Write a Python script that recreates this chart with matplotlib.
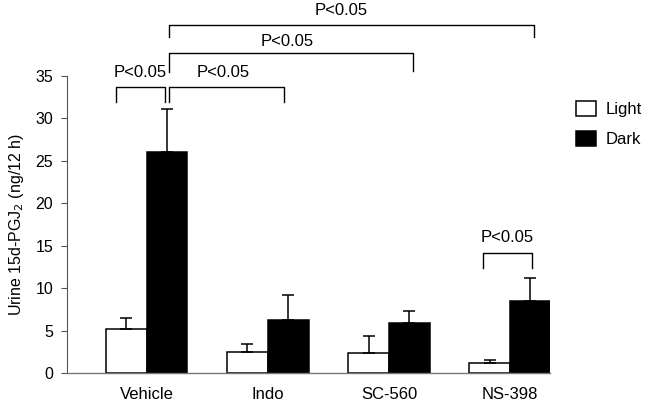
import matplotlib
matplotlib.use("Agg")
import matplotlib.pyplot as plt
import numpy as np

plt.rcParams['font.family'] = ['Liberation Sans', 'DejaVu Sans']

categories = ["Vehicle", "Indo", "SC-560", "NS-398"]
light = [5.2, 2.55, 2.35, 1.2]
light_err = [1.35, 0.85, 2.0, 0.35]
dark = [26.0, 6.25, 5.95, 8.5]
dark_err = [5.1, 2.9, 1.4, 2.7]
series_labels = ["Light", "Dark"]
yticks = [0, 5, 10, 15, 20, 25, 30, 35]
ylabel = "Urine 15d-PGJ$_2$ (ng/12 h)"

# significance brackets: (x_left, x_right, y_top, y_left_bottom, y_right_bottom, text_x, text_y, label)
brackets = [
    (-0.254, 0.149, 33.65, 31.95, 31.95, -0.05, 35.4, "P<0.05"),
    (0.186, 1.136, 33.65, 31.95, 31.95, 0.63, 35.4, "P<0.05"),
    (0.186, 2.197, 37.7, 35.4, 35.6, 1.16, 39.0, "P<0.05"),
    (0.186, 3.198, 41.0, 39.5, 39.5, 1.61, 42.7, "P<0.05"),
    (2.78, 3.179, 14.1, 12.35, 12.35, 2.98, 16.0, "P<0.05"),
]

fig = plt.figure(figsize=(6.47, 4.05), dpi=100)
ax = fig.add_axes([67/647, 1 - 373.3/405, (550-67)/647, (373.3-75.7)/405])

x = np.arange(len(categories))
w = 0.336
zeros = [0]*len(categories)
ax.bar(x - w/2, light, w, color='white', edgecolor='black', linewidth=1.1,
       label=series_labels[0], zorder=2)
ax.bar(x + w/2, dark, w, color='black', edgecolor='black', linewidth=1.1,
       label=series_labels[1], zorder=2)
ax.errorbar(x - w/2, light, yerr=[zeros, light_err], fmt='none', ecolor='black',
            elinewidth=1.1, capsize=4.3, capthick=1.1, zorder=3)
ax.errorbar(x + w/2, dark, yerr=[zeros, dark_err], fmt='none', ecolor='black',
            elinewidth=1.1, capsize=4.3, capthick=1.1, zorder=3)

ax.set_xlim(-0.658, 3.33)
ax.set_ylim(0, 35)
ax.set_yticks(yticks)
ax.set_xticks(x)
ax.set_xticklabels(categories)
ax.tick_params(axis='x', length=0, pad=10, labelsize=12)
ax.tick_params(axis='y', length=4, width=0.8, color='#555555', pad=6, labelsize=11.5)
for s in ['top', 'right']:
    ax.spines[s].set_visible(False)
ax.spines['left'].set_color('#555555')
ax.spines['bottom'].set_color('#777777')
ax.spines['left'].set_linewidth(0.8)
ax.spines['bottom'].set_linewidth(1.0)
ax.set_ylabel(ylabel, fontsize=11.5, labelpad=7)

for xl, xr, yt, ylb, yrb, tx, ty, lab in brackets:
    ax.plot([xl, xl, xr, xr], [ylb, yt, yt, yrb], color='black', lw=1.0,
            clip_on=False, zorder=4)
    ax.text(tx, ty, lab, ha='center', va='center', fontsize=12, clip_on=False)

leg = ax.legend(loc='upper left', bbox_to_anchor=(575.7/647, 1 - 101/405),
                bbox_transform=fig.transFigure, frameon=False, fontsize=12,
                borderaxespad=0, borderpad=0, handlelength=1.2, handleheight=1.02,
                handletextpad=0.6, labelspacing=0.8)

fig.savefig("out.png", dpi=100)
